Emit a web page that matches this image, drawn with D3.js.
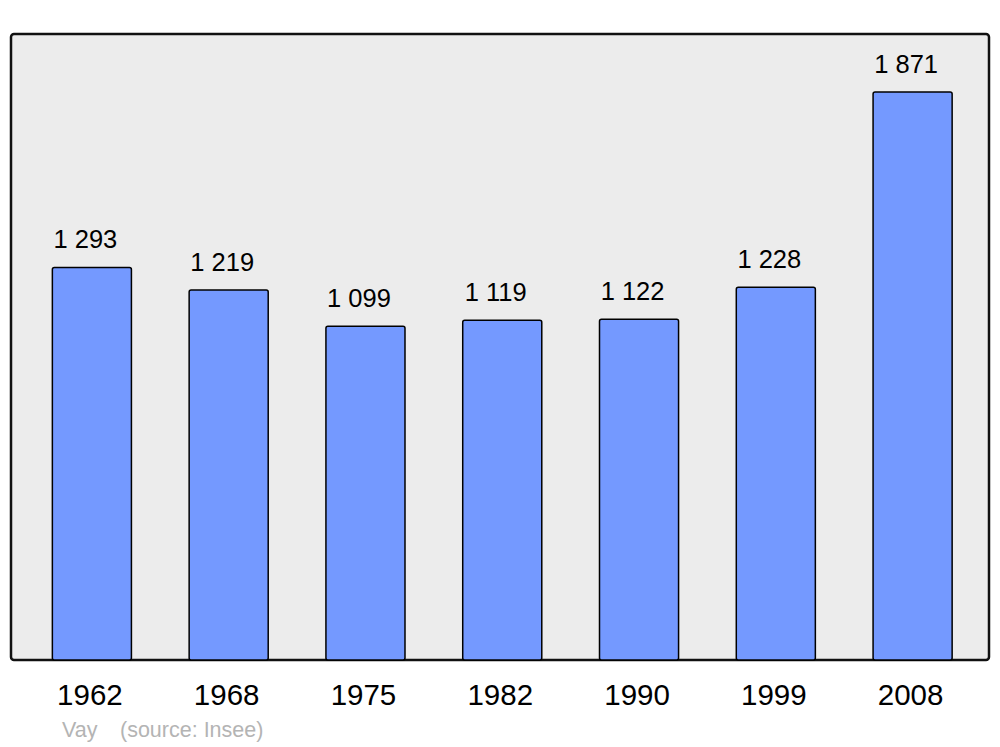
<!DOCTYPE html>
<html><head><meta charset="utf-8">
<script src="https://cdn.jsdelivr.net/npm/d3@7"></script>
<style>body{margin:0;background:#fff}svg{display:block}</style>
</head><body>
<script>
const years = ["1962","1968","1975","1982","1990","1999","2008"];
const population = [1293,1219,1099,1119,1122,1228,1871];
const valueLabels = ["1 293","1 219","1 099","1 119","1 122","1 228","1 871"];
const commune = "Vay";
const sourceText = "(source: Insee)";

const W=1000,H=747;
const svg=d3.select("body").append("svg").attr("width",W).attr("height",H);
const frame={x0:11,y0:34,x1:989,y1:660};
const x=d3.scaleBand().domain(years).range([23.5,981]).paddingInner(0.422).paddingOuter(0.211);
const y=d3.scaleLinear().domain([0,2062]).range([frame.y1,frame.y0]);

svg.append("rect").attr("x",frame.x0).attr("y",frame.y0)
  .attr("width",frame.x1-frame.x0).attr("height",frame.y1-frame.y0)
  .attr("rx",3).attr("fill","#ececec").attr("stroke","#111").attr("stroke-width",2.5);

svg.selectAll("rect.bar").data(population).join("rect").attr("class","bar")
  .attr("x",(d,i)=>x(years[i])).attr("width",x.bandwidth())
  .attr("y",d=>y(d)).attr("height",d=>frame.y1-y(d))
  .attr("rx",2).attr("fill","#7499ff").attr("stroke","#000").attr("stroke-width",1.5);

svg.selectAll("text.val").data(population).join("text").attr("class","val")
  .attr("x",(d,i)=>x(years[i])+x.bandwidth()/2-6.5).attr("y",d=>y(d)-19)
  .attr("text-anchor","middle").attr("font-family","Liberation Sans, Arial, sans-serif")
  .attr("font-size",25.5).attr("fill","#000").text((d,i)=>valueLabels[i]);

const xAxis=d3.axisBottom(x).tickSize(0).tickPadding(0);
const gx=svg.append("g").attr("transform",`translate(0,${frame.y1})`).call(xAxis);
gx.select(".domain").remove();
gx.selectAll("text").attr("font-family","Liberation Sans, Arial, sans-serif")
  .attr("font-size",29.5).attr("fill","#000").attr("dy",null).attr("y",45).attr("dx",-2);

svg.append("text").attr("x",62).attr("y",737).attr("font-family","Liberation Sans, Arial, sans-serif")
  .attr("font-size",21.5).attr("fill","#b4b4b4").text(commune);
svg.append("text").attr("x",120).attr("y",737).attr("font-family","Liberation Sans, Arial, sans-serif")
  .attr("font-size",21.5).attr("fill","#b4b4b4").text(sourceText);
</script>
</body></html>
